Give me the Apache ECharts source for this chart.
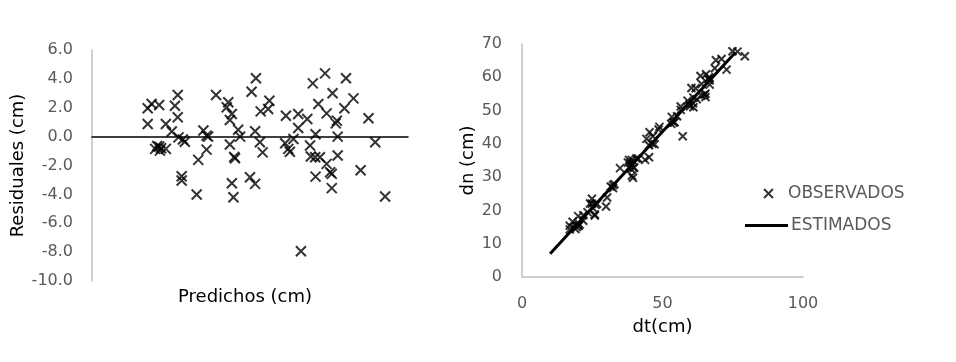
<!DOCTYPE html>
<html>
<head>
<meta charset="utf-8">
<script src="https://cdn.jsdelivr.net/npm/echarts@6/dist/echarts.min.js"></script>
<style>
  html, body { margin: 0; padding: 0; background: #fff; }
  #chart { width: 956px; height: 362px; }
</style>
</head>
<body>
<div id="chart"></div>
<script>
// Left panel: residuals vs predicted
const predX = [14.1,15.1,17.0,14.1,17.0,17.2,16.0,17.5,18.7,16.5,
  21.7,21.0,21.7,18.7,20.2,21.9,23.5,23.0,28.2,29.0,
  29.4,29.0,26.9,22.7,22.7,26.5,31.4,41.5,40.4,34.5,
  34.1,35.4,34.9,37.0,37.5,41.3,44.9,44.6,42.7,42.5,
  43.2,34.9,36.2,36.0,40.0,35.4,41.3,35.8,49.1,52.2,
  54.5,52.2,48.9,49.7,51.0,50.1,55.2,55.4,56.5,57.7,
  59.4,62.2,56.6,60.3,60.7,68.0,60.7,74.2,52.9,59.0,
  55.9,64.3,60.9,66.2,57.3,63.9,59.4,62.0,61.7,70.0,
  56.6,62.2,71.7];
const resid = [1.96,2.26,2.19,0.88,-0.69,-0.97,-0.85,-0.8,-0.85,-0.65,
  2.88,2.14,1.34,0.88,0.35,-0.05,-0.35,-0.2,0.42,0.07,
  0.0,-0.9,-1.61,-2.75,-3.04,-4.01,2.88,4.04,3.11,2.38,
  2.03,1.57,1.15,0.48,0.0,0.37,2.49,1.91,1.75,-0.39,
  -1.09,-0.55,-1.5,-1.4,-2.81,-3.23,-3.27,-4.2,1.45,1.57,
  1.22,0.6,-0.46,-0.85,-0.16,-1.05,-0.62,-1.38,-1.43,-1.43,
  -1.89,-1.31,-2.77,-2.47,-2.58,-2.33,-3.57,-4.15,-7.94,4.38,
  3.69,4.04,3.0,2.65,2.26,1.96,1.61,1.11,0.92,1.27,
  0.16,0.0,-0.39];

// Right panel: observed dn vs dt
const obsDt = [17.0,18.0,20.0,17.0,20.0,20.2,19.0,20.5,21.8,19.5,
  24.9,24.2,24.9,21.8,23.3,25.1,26.7,26.2,31.6,32.4,
  32.9,32.4,30.3,25.9,25.9,29.9,34.9,45.4,44.3,38.1,
  37.7,39.1,38.6,40.7,41.3,45.2,48.9,48.6,46.6,46.4,
  47.2,38.6,39.9,39.7,43.8,39.1,45.2,39.5,53.3,56.5,
  58.9,56.5,53.1,53.9,55.2,54.3,59.6,59.8,60.9,62.2,
  63.9,66.8,61.0,64.9,65.3,72.8,65.3,79.3,57.2,63.5,
  60.3,69.0,65.5,71.0,61.8,68.6,63.9,66.6,66.3,74.9,
  61.0,66.8,76.7];
const obsDn = [15.4,16.6,18.3,14.3,15.5,15.4,14.4,15.8,16.9,15.0,
  23.5,22.1,22.0,18.6,19.5,20.8,22.0,21.7,27.2,27.6,
  27.9,26.7,23.9,18.8,18.5,21.2,32.7,43.5,41.5,35.2,
  34.4,35.2,34.3,35.6,35.6,39.6,45.1,44.3,42.3,40.0,
  39.9,32.6,32.9,32.8,35.2,30.4,36.0,29.8,48.1,51.2,
  53.0,50.2,46.0,46.4,48.3,46.5,51.8,51.3,52.2,53.4,
  54.5,57.8,51.0,54.8,55.1,62.3,54.1,66.3,42.3,60.4,
  56.8,65.1,60.9,65.5,56.7,62.7,58.0,60.0,59.5,67.8,
  53.9,59.1,67.7];

// Estimated line (endpoints)
const estDt = [10, 76];
const estDn = [7.0, 67.5];

const leftYTicks = { min: -10, max: 6, interval: 2 };
const rightYTicks = { min: 0, max: 70, interval: 10 };
const rightXTicks = { min: 0, max: 100, interval: 50 };

const FONT = 'DejaVu Sans';
const GRAY = '#bfbfbf';
const LABEL = '#595959';
const CROSS = 'path://M0,0L10,10M0,10L10,0';

const chart = echarts.init(document.getElementById('chart'), null, { renderer: 'canvas' });

const option = {
  backgroundColor: '#fff',
  animation: false,
  textStyle: { fontFamily: FONT },
  grid: [
    { left: 92, top: 50, width: 316, height: 231 },
    { left: 522, top: 44, width: 281, height: 233 }
  ],
  xAxis: [
    {
      gridIndex: 0, type: 'value', min: 0, max: 80,
      axisLine: { show: true, onZero: true, lineStyle: { color: '#000', width: 1.5 } },
      axisTick: { show: false }, axisLabel: { show: false }, splitLine: { show: false }
    },
    {
      gridIndex: 1, type: 'value', min: rightXTicks.min, max: rightXTicks.max, interval: rightXTicks.interval,
      axisLine: { show: true, lineStyle: { color: GRAY, width: 1.5 } },
      axisTick: { show: false }, splitLine: { show: false },
      axisLabel: { color: LABEL, fontSize: 16, fontFamily: FONT, margin: 19 },
      name: 'dt(cm)', nameLocation: 'middle', nameGap: 41,
      nameTextStyle: { color: '#000', fontSize: 18, fontFamily: FONT }
    }
  ],
  yAxis: [
    {
      gridIndex: 0, type: 'value', min: leftYTicks.min, max: leftYTicks.max, interval: leftYTicks.interval,
      axisLine: { show: true, onZero: false, lineStyle: { color: GRAY, width: 1.5 } },
      axisTick: { show: false }, splitLine: { show: false },
      axisLabel: { color: LABEL, fontSize: 16, fontFamily: FONT, margin: 19,
        formatter: v => v.toFixed(1) },
      name: 'Residuales (cm)', nameLocation: 'middle', nameGap: 65,
      nameTextStyle: { color: '#000', fontSize: 18, fontFamily: FONT }
    },
    {
      gridIndex: 1, type: 'value', min: rightYTicks.min, max: rightYTicks.max, interval: rightYTicks.interval,
      axisLine: { show: true, onZero: false, lineStyle: { color: GRAY, width: 1.5 } },
      axisTick: { show: false }, splitLine: { show: false },
      axisLabel: { color: LABEL, fontSize: 16, fontFamily: FONT, margin: 20 },
      name: 'dn (cm)', nameLocation: 'middle', nameGap: 33,
      nameTextStyle: { color: '#000', fontSize: 18, fontFamily: FONT }
    }
  ],
  legend: [
    {
      data: [{ name: 'OBSERVADOS', icon: CROSS }],
      left: 758, top: 180, itemWidth: 9, itemHeight: 9, itemGap: 0,
      textStyle: { color: LABEL, fontSize: 17, fontFamily: FONT, padding: [0, 0, 0, 10] },
      itemStyle: { color: '#000', borderColor: '#000', borderWidth: 2 }
    },
    {
      data: [{ name: 'ESTIMADOS', icon: 'rect' }],
      left: 740, top: 212, itemWidth: 43, itemHeight: 3, itemGap: 0,
      textStyle: { color: LABEL, fontSize: 17, fontFamily: FONT, padding: [0, 0, 0, -2] },
      itemStyle: { color: '#000', borderWidth: 0 }
    }
  ],
  graphic: [{
    type: 'text',
    x: 245, y: 297,
    style: { text: 'Predichos (cm)', fill: '#000', font: '18px "DejaVu Sans"', align: 'center', verticalAlign: 'middle' }
  }],
  series: [
    {
      type: 'scatter', name: 'Residuos', xAxisIndex: 0, yAxisIndex: 0,
      data: predX.map((x, i) => [x, resid[i]]),
      symbol: CROSS, symbolSize: 10,
      itemStyle: { color: '#000', borderColor: '#000', borderWidth: 2 }
    },
    {
      type: 'scatter', name: 'OBSERVADOS', xAxisIndex: 1, yAxisIndex: 1,
      data: obsDt.map((x, i) => [x, obsDn[i]]),
      symbol: CROSS, symbolSize: 8,
      itemStyle: { color: '#000', borderColor: '#000', borderWidth: 2 }
    },
    {
      type: 'line', name: 'ESTIMADOS', xAxisIndex: 1, yAxisIndex: 1,
      data: estDt.map((x, i) => [x, estDn[i]]),
      symbol: 'none', lineStyle: { color: '#000', width: 3 },
      itemStyle: { color: '#000' }
    }
  ]
};
chart.setOption(option);
</script>
</body>
</html>
